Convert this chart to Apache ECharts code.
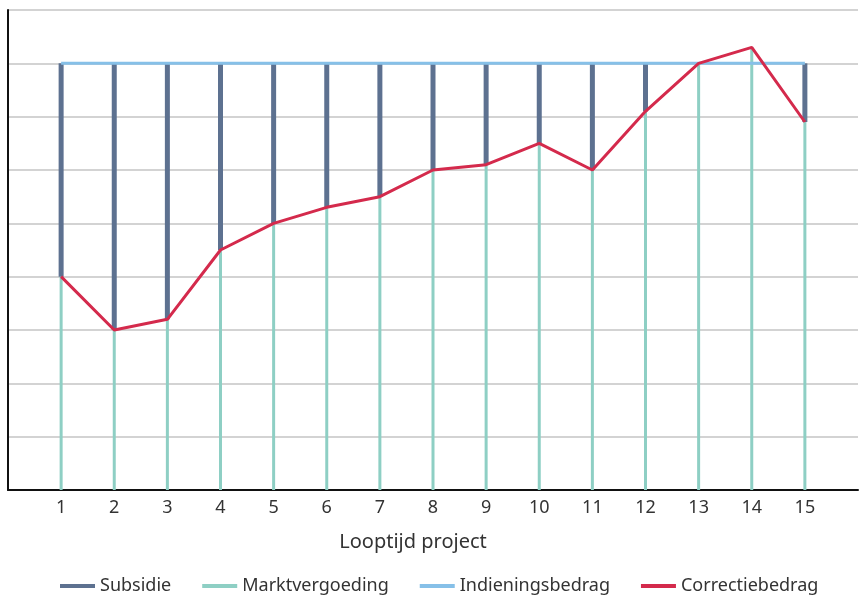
<!DOCTYPE html>
<html>
<head>
<meta charset="utf-8">
<script src="https://cdn.jsdelivr.net/npm/echarts@6/dist/echarts.min.js"></script>
<style>
  html, body { margin: 0; padding: 0; background: #ffffff; }
  #chart { width: 862px; height: 596px; }
</style>
</head>
<body>
<div id="chart"></div>
<script>
// Project periods (an empty slot at each end keeps the first and last period off the axes)
const periodLabels = ['', '1', '2', '3', '4', '5', '6', '7', '8', '9', '10', '11', '12', '13', '14', '15', ''];

// Values per period 1..15
const correctiebedrag = [4.0, 3.0, 3.2, 4.5, 5.0, 5.3, 5.5, 6.0, 6.1, 6.5, 6.0, 7.1, 8.0, 8.3, 6.9];
const marktvergoeding = [4.0, 3.0, 3.2, 4.5, 5.0, 5.3, 5.5, 6.0, 6.1, 6.5, 6.0, 7.1, 8.0, 8.3, 6.9];
const subsidie        = [4.0, 5.0, 4.8, 3.5, 3.0, 2.7, 2.5, 2.0, 1.9, 1.5, 2.0, 0.9, 0.0, 0.0, 1.1];
const indieningsbedrag = [8, 8, 8, 8, 8, 8, 8, 8, 8, 8, 8, 8, 8, 8, 8];

const COLORS = {
  subsidie: '#5d7190',
  markt: '#8ecfc4',
  indiening: '#86c0e8',
  correctie: '#d42a4c'
};

const FONT = '"Noto Sans", Lato, sans-serif';

// Vertical segment [categoryIndex, low, high] drawn as a line through the axes' scales
function segmentRenderer(width, color) {
  return function (params, api) {
    const x = api.value(0);
    const p0 = api.coord([x, api.value(1)]);
    const p1 = api.coord([x, api.value(2)]);
    return {
      type: 'line',
      shape: { x1: p0[0], y1: p0[1], x2: p1[0], y2: p1[1] },
      style: { stroke: color, lineWidth: width, fill: null }
    };
  };
}

const marktData = marktvergoeding.map((v, i) => [i + 1, 0, v]);
const subsidieData = subsidie.map((v, i) => [i + 1, marktvergoeding[i], marktvergoeding[i] + v]);
const indieningData = indieningsbedrag.map((v, i) => [i + 1, v]);
const correctieData = correctiebedrag.map((v, i) => [i + 1, v]);

const chart = echarts.init(document.getElementById('chart'), null, { renderer: 'canvas' });

chart.setOption({
  animation: false,
  textStyle: { fontFamily: FONT },
  grid: { left: 8, right: 4, top: 10, bottom: 106, containLabel: false },
  xAxis: {
    type: 'category',
    data: periodLabels,
    boundaryGap: false,
    name: 'Looptijd project',
    nameLocation: 'middle',
    nameGap: 42,
    nameTextStyle: { fontSize: 20, color: '#333', fontFamily: FONT, padding: [0, 40, 0, 0] },
    axisLine: { show: true, lineStyle: { color: '#111', width: 2 } },
    axisTick: { show: false },
    axisLabel: { fontSize: 18, color: '#333', fontFamily: FONT, margin: 9, interval: 0 },
    splitLine: { show: false }
  },
  yAxis: {
    type: 'value',
    min: 0,
    max: 9,
    interval: 1,
    axisLine: { show: true, lineStyle: { color: '#111', width: 2 } },
    axisTick: { show: false },
    axisLabel: { show: false },
    splitLine: { show: true, lineStyle: { color: '#c4c4c4', width: 1.5 } }
  },
  legend: {
    top: 572,
    left: 55,
    itemWidth: 35,
    itemHeight: 4,
    itemGap: 31,
    icon: 'rect',
    textStyle: { fontSize: 18, color: '#333', fontFamily: FONT },
    data: ['Subsidie', 'Marktvergoeding', 'Indieningsbedrag', 'Correctiebedrag']
  },
  series: [
    {
      name: 'Marktvergoeding',
      type: 'custom',
      renderItem: segmentRenderer(3, COLORS.markt),
      itemStyle: { color: COLORS.markt },
      encode: { x: 0, y: [1, 2] },
      data: marktData,
      z: 2
    },
    {
      name: 'Subsidie',
      type: 'custom',
      renderItem: segmentRenderer(5, COLORS.subsidie),
      itemStyle: { color: COLORS.subsidie },
      encode: { x: 0, y: [1, 2] },
      data: subsidieData,
      z: 3
    },
    {
      name: 'Indieningsbedrag',
      type: 'line',
      data: indieningData,
      showSymbol: false,
      symbol: 'none',
      lineStyle: { color: COLORS.indiening, width: 3 },
      itemStyle: { color: COLORS.indiening },
      z: 4
    },
    {
      name: 'Correctiebedrag',
      type: 'line',
      data: correctieData,
      showSymbol: false,
      symbol: 'none',
      lineStyle: { color: COLORS.correctie, width: 3 },
      itemStyle: { color: COLORS.correctie },
      z: 5
    }
  ]
});
</script>
</body>
</html>
